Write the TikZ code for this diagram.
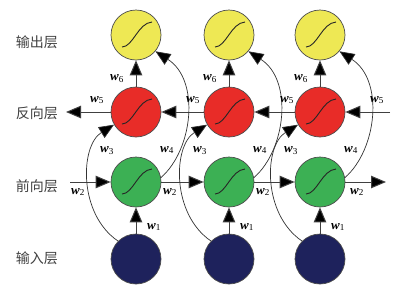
\documentclass[tikz,border=0pt]{standalone}
\usepackage{fontspec}
\setmainfont{Liberation Serif}
\newfontfamily\cjk{Noto Sans CJK SC}
\usetikzlibrary{arrows.meta}
\definecolor{cy}{RGB}{238,232,84}
\definecolor{cr}{RGB}{232,44,40}
\definecolor{cg}{RGB}{60,176,84}
\definecolor{cn}{RGB}{30,34,92}
\begin{document}
\begin{tikzpicture}[x=1pt,y=-1pt,
  neuron/.style={circle,draw=black!70,line width=0.7pt,minimum size=50pt,inner sep=0pt},
  arr/.style={draw=black!75,line width=1pt,-{Triangle[length=15pt,width=12.5pt,fill=black]}},
  carr/.style={draw=black!80,line width=0.7pt,-{Triangle[length=15pt,width=12.5pt,fill=black]}},
  sig/.style={line width=0.9pt,draw=black!85},
  wl/.style={font=\fontsize{13}{13}\selectfont,inner sep=0pt},
  layer/.style={font=\cjk\fontsize{14}{14}\selectfont,text=black!75}]
\useasboundingbox (0,0) rectangle (394,290);
% layer labels
\node[layer] (lo) at (37,42) {输出层};
\node[layer] (lb) at (37,113) {反向层};
\node[layer] (lf) at (37,186) {前向层};
\node[layer] (li) at (37,258) {输入层};
% neurons
\foreach \i/\x in {1/136,2/229,3/320} {
  \node[neuron,fill=cy] (y\i) at (\x,35) {};
  \node[neuron,fill=cr] (r\i) at (\x,112) {};
  \node[neuron,fill=cg] (g\i) at (\x,182) {};
  \node[neuron,fill=cn] (i\i) at (\x,259) {};
  \foreach \n in {y\i,r\i,g\i} {
    \draw[sig,shift={(\n.center)}] (-14,12) .. controls (-3,12) and (2,-12) .. (16,-13);
  }
}
% free ends
\coordinate (fin) at (70,182);
\coordinate (fout) at (386,182);
\coordinate (bin) at (390,112);
\coordinate (bout) at (66,112);
% forward layer
\draw[arr] (fin) -- (g1.west);
\draw[arr] (g1.east) -- (g2.west);
\draw[arr] (g2.east) -- (g3.west);
\draw[arr] (g3.east) -- (fout);
% backward layer
\draw[arr] (bin) -- (r3.east);
\draw[arr] (r3.west) -- (r2.east);
\draw[arr] (r2.west) -- (r1.east);
\draw[arr] (r1.west) -- (bout);
% verticals and curves
\foreach \i in {1,2,3} {
  \draw[arr] (i\i.north) -- (g\i.south);
  \draw[arr] (r\i.north) -- (y\i.south);
  \draw[carr] (i\i.135) .. controls +(-40,-27) and +(-34,21) .. (r\i.210);
  \draw[carr] (g\i.10) .. controls +(32,-28) and +(45,29) .. (y\i.-40);
}
% weight labels
\foreach \i/\x in {1/0,2/93,3/184} {
  \node[wl] (w6\i) at (117+\x,79) {\textbf{\textit{w}}\textsubscript{6}};
  \node[wl] (w3\i) at (107+\x,151) {\textbf{\textit{w}}\textsubscript{3}};
  \node[wl] (w4\i) at (167+\x,150) {\textbf{\textit{w}}\textsubscript{4}};
  \node[wl] (w1\i) at (154+\x,227) {\textbf{\textit{w}}\textsubscript{1}};
}
\node[wl] (w5a) at (97,100) {\textbf{\textit{w}}\textsubscript{5}};
\node[wl] (w5b) at (193,100) {\textbf{\textit{w}}\textsubscript{5}};
\node[wl] (w5c) at (287,100) {\textbf{\textit{w}}\textsubscript{5}};
\node[wl] (w5d) at (377,100) {\textbf{\textit{w}}\textsubscript{5}};
\node[wl] (w2a) at (78,192) {\textbf{\textit{w}}\textsubscript{2}};
\node[wl] (w2b) at (170,192) {\textbf{\textit{w}}\textsubscript{2}};
\node[wl] (w2c) at (263,192) {\textbf{\textit{w}}\textsubscript{2}};
\node[wl] (w2d) at (357,192) {\textbf{\textit{w}}\textsubscript{2}};
\end{tikzpicture}
\end{document}
